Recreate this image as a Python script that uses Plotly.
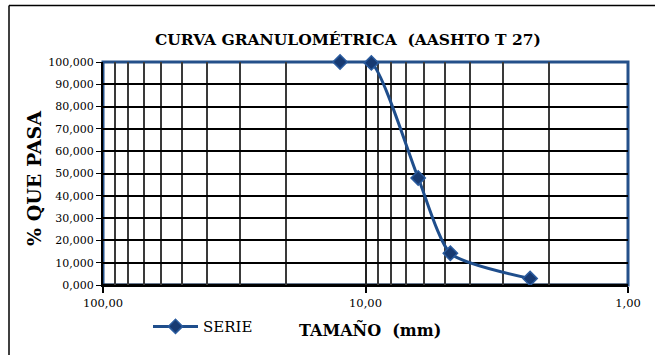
import plotly.graph_objects as go

# Sieve analysis: particle size (mm) vs. percent passing
tamano_mm = [12.5, 9.5, 6.3, 4.75, 2.36]
pct_pasa = [100.0, 99.6, 48.0, 14.2, 2.9]

x_ticks = [100, 10, 1]
x_tick_text = ["100,00", "10,00", "1,00"]
y_ticks = [0, 10, 20, 30, 40, 50, 60, 70, 80, 90, 100]
minor_x = [90, 80, 70, 60, 50, 40, 30, 20, 9, 8, 7, 6, 5, 4, 3, 2]

W, H = 655, 355
L, R, T, B = 103, 27, 62, 68
pw, ph = W - L - R, H - T - B

def px_x(p):
    return (p - L) / pw

def px_y(p):
    return (H - B - p) / ph

serif = "DejaVu Serif"
line_blue = "#1F4E8C"
mark_blue = "#173A72"
frame_blue = "#24508A"

fig = go.Figure()
fig.add_trace(go.Scatter(
    x=tamano_mm, y=pct_pasa, name="SERIE",
    mode="lines+markers",
    line=dict(color=line_blue, width=3, shape="spline", smoothing=0.6),
    marker=dict(symbol="diamond", size=11, color=mark_blue,
                line=dict(color="#2A5B9E", width=1.5)),
    cliponaxis=False,
))

fig.update_layout(
    width=W, height=H,
    margin=dict(l=L, r=R, t=T, b=B),
    paper_bgcolor="white", plot_bgcolor="white",
    separators=",.",
    font=dict(family=serif, color="black", size=11),
    showlegend=True,
    legend=dict(orientation="h", x=px_x(148), y=px_y(329), xanchor="left",
                yanchor="middle", font=dict(family=serif, size=15),
                bgcolor="rgba(0,0,0,0)", itemwidth=45),
    xaxis=dict(
        type="log", range=[2, 0], tickvals=x_ticks, ticktext=x_tick_text,
        showgrid=True, gridcolor="#222222", gridwidth=2,
        ticks="outside", ticklen=6, tickwidth=2, tickcolor="black",
        showline=True, linecolor="black", linewidth=2,
        tickfont=dict(family=serif, size=11.5),
        minor=dict(tickvals=minor_x, showgrid=True, gridcolor="#3a3a3a",
                   gridwidth=1.5, ticks=""),
        zeroline=False,
    ),
    yaxis=dict(
        range=[0, 100], tickvals=y_ticks, tickformat=".3f",
        showgrid=True, gridcolor="black", gridwidth=1.5,
        ticks="outside", ticklen=5, tickcolor="black",
        showline=True, linecolor="black", linewidth=2,
        tickfont=dict(family=serif, size=11),
        zeroline=False,
    ),
    title=dict(text="<b>CURVA GRANULOMÉTRICA  (AASHTO T 27)</b>",
               x=348 / W, xref="container", xanchor="center",
               y=1 - 40 / H, yref="container", yanchor="middle",
               font=dict(family=serif, size=15.5, color="black")),
)

# Axis titles
fig.add_annotation(text="<b>TAMAÑO  (mm)</b>", xref="paper", yref="paper",
                   x=px_x(370), y=px_y(332), xanchor="center", yanchor="middle",
                   showarrow=False,
                   font=dict(family=serif, size=16, color="black"))
fig.add_annotation(text="<b>% QUE PASA</b>", xref="paper", yref="paper",
                   x=px_x(34), y=px_y(180), xanchor="center", yanchor="middle",
                   showarrow=False, textangle=-90,
                   font=dict(family=serif, size=19, color="black"))

# Blue frame around the plotting area
fig.add_shape(type="rect", xref="paper", yref="paper", x0=0, x1=1, y0=0, y1=1,
              line=dict(color=frame_blue, width=3), layer="between")
fig.add_shape(type="line", xref="paper", yref="paper", x0=0, x1=1, y0=0, y1=0,
              line=dict(color="black", width=2.5), layer="between")

# Outer chart frame (top and left edges)
fig.add_shape(type="line", xref="paper", yref="paper",
              x0=px_x(9), x1=px_x(W + 5), y0=px_y(5), y1=px_y(5),
              line=dict(color="black", width=1.5), layer="above")
fig.add_shape(type="line", xref="paper", yref="paper",
              x0=px_x(9), x1=px_x(9), y0=px_y(5), y1=px_y(H + 5),
              line=dict(color="black", width=1.5), layer="above")

fig.write_html("out.html")
